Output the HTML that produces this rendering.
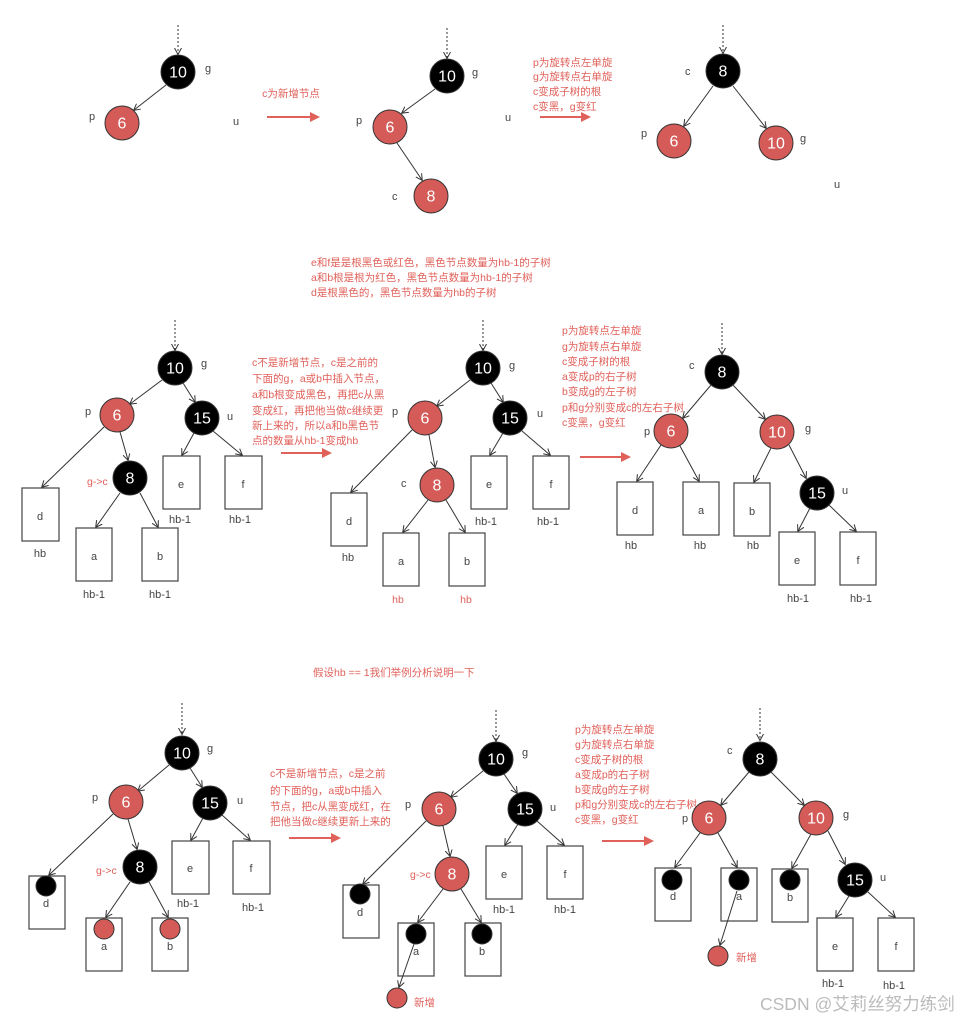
<!DOCTYPE html>
<html><head><meta charset="utf-8"><style>
html,body{margin:0;padding:0;background:#fff;}
svg{display:block;font-family:"Liberation Sans","Noto Sans CJK SC",sans-serif;}
.k{fill:#000;stroke:#333;stroke-width:1}
.r{fill:#d45b57;stroke:#333;stroke-width:1}
.n{fill:#fff;font-size:16px;text-anchor:middle;dominant-baseline:central}
.l{fill:#444;font-size:11px}
.c{text-anchor:middle}
.t{fill:#e0605a;font-size:10.5px}
.e{stroke:#333;stroke-width:1;fill:none;marker-end:url(#a)}
.d{stroke:#333;stroke-width:1;stroke-dasharray:2 2;fill:none;marker-end:url(#a)}
.b{fill:#fff;stroke:#444;stroke-width:1.2}
.ar{stroke:#e0605a;stroke-width:2;fill:none}
.ah{fill:#e0605a}
</style></head><body>
<svg width="969" height="1023" viewBox="0 0 969 1023">
<defs><marker id="a" markerWidth="8" markerHeight="8" refX="6" refY="4" orient="auto" markerUnits="userSpaceOnUse"><path d="M0,0.5 L6.5,4 L0,7.5" fill="none" stroke="#333" stroke-width="1"/></marker></defs>

<!-- ROW 1 -->
<line class="d" x1="178" y1="25" x2="178" y2="54"/>
<line class="e" x1="166" y1="85" x2="134" y2="110"/>
<circle class="k" cx="178" cy="72" r="17"/><text class="n" x="178" y="73">10</text>
<circle class="r" cx="122" cy="123" r="17"/><text class="n" x="122" y="124">6</text>
<text class="l" x="205" y="72">g</text><text class="l" x="89" y="120">p</text><text class="l" x="233" y="125">u</text>
<text class="t c" x="291" y="97">c为新增节点</text>
<line class="ar" x1="267" y1="117" x2="312" y2="117"/><path class="ah" d="M310,112 L320,117 L310,122Z"/>

<line class="d" x1="447" y1="28" x2="447" y2="58"/>
<line class="e" x1="435" y1="89" x2="402" y2="113"/>
<line class="e" x1="397" y1="143" x2="422" y2="180"/>
<circle class="k" cx="447" cy="76" r="17"/><text class="n" x="447" y="77">10</text>
<circle class="r" cx="390" cy="127" r="17"/><text class="n" x="390" y="128">6</text>
<circle class="r" cx="431" cy="196" r="17"/><text class="n" x="431" y="197">8</text>
<text class="l" x="472" y="76">g</text><text class="l" x="356" y="124">p</text><text class="l" x="392" y="200">c</text><text class="l" x="505" y="121">u</text>
<text class="t" x="533" y="66">p为旋转点左单旋</text>
<text class="t" x="533" y="80">g为旋转点右单旋</text>
<text class="t" x="533" y="95">c变成子树的根</text>
<text class="t" x="533" y="110">c变黑，g变红</text>
<line class="ar" x1="540" y1="117" x2="583" y2="117"/><path class="ah" d="M581,112 L591,117 L581,122Z"/>

<line class="d" x1="723" y1="25" x2="723" y2="53"/>
<line class="e" x1="713" y1="86" x2="684" y2="126"/>
<line class="e" x1="733" y1="86" x2="766" y2="128"/>
<circle class="k" cx="723" cy="71" r="17"/><text class="n" x="723" y="72">8</text>
<circle class="r" cx="674" cy="141" r="17"/><text class="n" x="674" y="142">6</text>
<circle class="r" cx="776" cy="143" r="17"/><text class="n" x="776" y="144">10</text>
<text class="l" x="685" y="75">c</text><text class="l" x="641" y="137">p</text><text class="l" x="800" y="142">g</text><text class="l" x="834" y="188">u</text>

<!-- ROW 2 text -->
<text class="t" x="311" y="266">e和f是是根黑色或红色，黑色节点数量为hb-1的子树</text>
<text class="t" x="311" y="281">a和b根是根为红色，黑色节点数量为hb-1的子树</text>
<text class="t" x="311" y="296">d是根黑色的，黑色节点数量为hb的子树</text>

<!-- Tree A -->
<line class="d" x1="175" y1="320" x2="175" y2="350"/>
<line class="e" x1="162" y1="380" x2="130" y2="404"/>
<line class="e" x1="183" y1="383" x2="195" y2="402"/>
<line class="e" x1="104" y1="427" x2="42" y2="487"/>
<line class="e" x1="120" y1="432" x2="128" y2="460"/>
<line class="e" x1="120" y1="493" x2="96" y2="527"/>
<line class="e" x1="140" y1="493" x2="158" y2="527"/>
<line class="e" x1="194" y1="433" x2="182" y2="455"/>
<line class="e" x1="213" y1="431" x2="242" y2="455"/>
<circle class="k" cx="175" cy="368" r="17"/><text class="n" x="175" y="369">10</text>
<circle class="r" cx="117" cy="415" r="17"/><text class="n" x="117" y="416">6</text>
<circle class="k" cx="202" cy="418" r="17"/><text class="n" x="202" y="419">15</text>
<circle class="k" cx="130" cy="478" r="17"/><text class="n" x="130" y="479">8</text>
<rect class="b" x="22" y="488" width="37" height="53"/><rect class="b" x="76" y="528" width="36" height="53"/><rect class="b" x="142" y="528" width="36" height="53"/><rect class="b" x="163" y="456" width="37" height="53"/><rect class="b" x="225" y="456" width="37" height="53"/>
<text class="l c" x="40" y="520">d</text><text class="l c" x="94" y="560">a</text><text class="l c" x="160" y="560">b</text><text class="l c" x="181" y="488">e</text><text class="l c" x="243" y="488">f</text>
<text class="l c" x="40" y="557">hb</text><text class="l c" x="94" y="598">hb-1</text><text class="l c" x="160" y="598">hb-1</text><text class="l c" x="180" y="523">hb-1</text><text class="l c" x="240" y="523">hb-1</text>
<text class="l" x="201" y="367">g</text><text class="l" x="85" y="415">p</text><text class="l" x="227" y="420">u</text><text class="t" x="87" y="485">g-&gt;c</text>
<text class="t" x="252" y="366">c不是新增节点，c是之前的</text>
<text class="t" x="252" y="382">下面的g，a或b中插入节点，</text>
<text class="t" x="252" y="398">a和b根变成黑色，再把c从黑</text>
<text class="t" x="252" y="414">变成红，再把他当做c继续更</text>
<text class="t" x="252" y="429">新上来的，所以a和b黑色节</text>
<text class="t" x="252" y="444">点的数量从hb-1变成hb</text>
<line class="ar" x1="281" y1="453" x2="324" y2="453"/><path class="ah" d="M322,448 L332,453 L322,458Z"/>

<!-- Tree B -->
<line class="d" x1="483" y1="320" x2="483" y2="350"/>
<line class="e" x1="470" y1="380" x2="437" y2="406"/>
<line class="e" x1="491" y1="383" x2="503" y2="402"/>
<line class="e" x1="412" y1="430" x2="351" y2="492"/>
<line class="e" x1="429" y1="435" x2="435" y2="467"/>
<line class="e" x1="428" y1="500" x2="403" y2="532"/>
<line class="e" x1="446" y1="500" x2="465" y2="532"/>
<line class="e" x1="503" y1="433" x2="490" y2="455"/>
<line class="e" x1="522" y1="431" x2="550" y2="455"/>
<circle class="k" cx="483" cy="368" r="17"/><text class="n" x="483" y="369">10</text>
<circle class="r" cx="425" cy="418" r="17"/><text class="n" x="425" y="419">6</text>
<circle class="k" cx="510" cy="418" r="17"/><text class="n" x="510" y="419">15</text>
<circle class="r" cx="437" cy="485" r="17"/><text class="n" x="437" y="486">8</text>
<rect class="b" x="331" y="493" width="36" height="53"/><rect class="b" x="383" y="533" width="36" height="53"/><rect class="b" x="449" y="533" width="36" height="53"/><rect class="b" x="471" y="456" width="36" height="53"/><rect class="b" x="533" y="456" width="36" height="53"/>
<text class="l c" x="349" y="525">d</text><text class="l c" x="401" y="565">a</text><text class="l c" x="467" y="565">b</text><text class="l c" x="489" y="488">e</text><text class="l c" x="551" y="488">f</text>
<text class="l c" x="348" y="561">hb</text><text class="t c" x="398" y="603">hb</text><text class="t c" x="466" y="603">hb</text><text class="l c" x="486" y="525">hb-1</text><text class="l c" x="548" y="525">hb-1</text>
<text class="l" x="509" y="369">g</text><text class="l" x="392" y="415">p</text><text class="l" x="537" y="417">u</text><text class="l" x="401" y="487">c</text>
<text class="t" x="562" y="334">p为旋转点左单旋</text>
<text class="t" x="562" y="350">g为旋转点右单旋</text>
<text class="t" x="562" y="365">c变成子树的根</text>
<text class="t" x="562" y="380">a变成p的右子树</text>
<text class="t" x="562" y="395">b变成g的左子树</text>
<text class="t" x="562" y="411">p和g分别变成c的左右子树</text>
<text class="t" x="562" y="426">c变黑，g变红</text>
<line class="ar" x1="580" y1="457" x2="623" y2="457"/><path class="ah" d="M621,452 L631,457 L621,462Z"/>

<!-- Tree C -->
<line class="d" x1="722" y1="323" x2="722" y2="354"/>
<line class="e" x1="711" y1="385" x2="683" y2="418"/>
<line class="e" x1="733" y1="385" x2="765" y2="419"/>
<line class="e" x1="661" y1="445" x2="637" y2="481"/>
<line class="e" x1="680" y1="446" x2="699" y2="481"/>
<line class="e" x1="771" y1="448" x2="754" y2="482"/>
<line class="e" x1="789" y1="445" x2="806" y2="478"/>
<line class="e" x1="810" y1="508" x2="798" y2="531"/>
<line class="e" x1="829" y1="505" x2="856" y2="531"/>
<circle class="k" cx="722" cy="372" r="17"/><text class="n" x="722" y="373">8</text>
<circle class="r" cx="671" cy="431" r="17"/><text class="n" x="671" y="432">6</text>
<circle class="r" cx="777" cy="432" r="17"/><text class="n" x="777" y="433">10</text>
<circle class="k" cx="817" cy="493" r="17"/><text class="n" x="817" y="494">15</text>
<rect class="b" x="617" y="482" width="36" height="53"/><rect class="b" x="683" y="482" width="36" height="53"/><rect class="b" x="734" y="483" width="36" height="53"/><rect class="b" x="779" y="532" width="36" height="53"/><rect class="b" x="840" y="532" width="36" height="53"/>
<text class="l c" x="635" y="514">d</text><text class="l c" x="701" y="514">a</text><text class="l c" x="752" y="515">b</text><text class="l c" x="797" y="564">e</text><text class="l c" x="858" y="564">f</text>
<text class="l c" x="631" y="549">hb</text><text class="l c" x="700" y="549">hb</text><text class="l c" x="753" y="549">hb</text><text class="l c" x="798" y="602">hb-1</text><text class="l c" x="861" y="602">hb-1</text>
<text class="l" x="689" y="369">c</text><text class="l" x="644" y="435">p</text><text class="l" x="805" y="432">g</text><text class="l" x="842" y="494">u</text>

<!-- ROW 3 -->
<text class="t" x="313" y="676">假设hb == 1我们举例分析说明一下</text>

<!-- Tree D -->
<line class="d" x1="182" y1="703" x2="182" y2="734"/>
<line class="e" x1="169" y1="765" x2="138" y2="791"/>
<line class="e" x1="190" y1="768" x2="202" y2="787"/>
<line class="e" x1="113" y1="814" x2="49" y2="875"/>
<line class="e" x1="128" y1="819" x2="137" y2="849"/>
<line class="e" x1="130" y1="882" x2="106" y2="917"/>
<line class="e" x1="149" y1="882" x2="168" y2="917"/>
<line class="e" x1="203" y1="818" x2="191" y2="840"/>
<line class="e" x1="222" y1="815" x2="250" y2="840"/>
<circle class="k" cx="182" cy="753" r="17"/><text class="n" x="182" y="754">10</text>
<circle class="r" cx="126" cy="802" r="17"/><text class="n" x="126" y="803">6</text>
<circle class="k" cx="210" cy="803" r="17"/><text class="n" x="210" y="804">15</text>
<circle class="k" cx="140" cy="867" r="17"/><text class="n" x="140" y="868">8</text>
<rect class="b" x="29" y="876" width="36" height="53"/><rect class="b" x="86" y="918" width="36" height="53"/><rect class="b" x="152" y="918" width="36" height="53"/><rect class="b" x="172" y="841" width="37" height="53"/><rect class="b" x="233" y="841" width="37" height="53"/>
<circle class="k" cx="46" cy="886" r="10"/><circle class="r" cx="104" cy="929" r="10"/><circle class="r" cx="170" cy="929" r="10"/>
<text class="l c" x="46" y="907">d</text><text class="l c" x="104" y="950">a</text><text class="l c" x="170" y="950">b</text><text class="l c" x="190" y="872">e</text><text class="l c" x="251" y="872">f</text>
<text class="l c" x="188" y="907">hb-1</text><text class="l c" x="253" y="911">hb-1</text>
<text class="l" x="207" y="752">g</text><text class="l" x="92" y="801">p</text><text class="l" x="237" y="804">u</text><text class="t" x="96" y="874">g-&gt;c</text>
<text class="t" x="270" y="777">c不是新增节点，c是之前</text>
<text class="t" x="270" y="794">的下面的g，a或b中插入</text>
<text class="t" x="270" y="810">节点，把c从黑变成红，在</text>
<text class="t" x="270" y="825">把他当做c继续更新上来的</text>
<line class="ar" x1="289" y1="838" x2="333" y2="838"/><path class="ah" d="M331,833 L341,838 L331,843Z"/>

<!-- Tree E -->
<line class="d" x1="496" y1="710" x2="496" y2="741"/>
<line class="e" x1="483" y1="771" x2="451" y2="797"/>
<line class="e" x1="504" y1="774" x2="517" y2="793"/>
<line class="e" x1="426" y1="821" x2="363" y2="884"/>
<line class="e" x1="443" y1="826" x2="450" y2="856"/>
<line class="e" x1="443" y1="889" x2="418" y2="922"/>
<line class="e" x1="461" y1="889" x2="481" y2="922"/>
<line class="e" x1="518" y1="824" x2="505" y2="845"/>
<line class="e" x1="537" y1="821" x2="564" y2="845"/>
<circle class="k" cx="496" cy="759" r="17"/><text class="n" x="496" y="760">10</text>
<circle class="r" cx="439" cy="809" r="17"/><text class="n" x="439" y="810">6</text>
<circle class="k" cx="525" cy="809" r="17"/><text class="n" x="525" y="810">15</text>
<circle class="r" cx="452" cy="874" r="17"/><text class="n" x="452" y="875">8</text>
<rect class="b" x="343" y="885" width="36" height="53"/><rect class="b" x="398" y="923" width="36" height="53"/><rect class="b" x="465" y="923" width="36" height="53"/><rect class="b" x="486" y="846" width="36" height="53"/><rect class="b" x="547" y="846" width="36" height="53"/>
<circle class="k" cx="360" cy="894" r="10"/><circle class="k" cx="416" cy="934" r="10"/><circle class="k" cx="482" cy="934" r="10"/>
<line class="e" x1="414" y1="944" x2="399" y2="987"/>
<circle class="r" cx="397" cy="998" r="10"/><text class="t" x="414" y="1006">新增</text>
<text class="l c" x="360" y="916">d</text><text class="l c" x="416" y="955">a</text><text class="l c" x="482" y="955">b</text><text class="l c" x="504" y="878">e</text><text class="l c" x="565" y="878">f</text>
<text class="l c" x="504" y="913">hb-1</text><text class="l c" x="565" y="913">hb-1</text>
<text class="l" x="522" y="756">g</text><text class="l" x="405" y="808">p</text><text class="l" x="550" y="811">u</text><text class="t" x="410" y="878">g-&gt;c</text>
<text class="t" x="575" y="733">p为旋转点左单旋</text>
<text class="t" x="575" y="748">g为旋转点右单旋</text>
<text class="t" x="575" y="763">c变成子树的根</text>
<text class="t" x="575" y="778">a变成p的右子树</text>
<text class="t" x="575" y="793">b变成g的左子树</text>
<text class="t" x="575" y="808">p和g分别变成c的左右子树</text>
<text class="t" x="575" y="823">c变黑，g变红</text>
<line class="ar" x1="602" y1="841" x2="646" y2="841"/><path class="ah" d="M644,836 L654,841 L644,846Z"/>

<!-- Tree F -->
<line class="d" x1="760" y1="708" x2="760" y2="740"/>
<line class="e" x1="749" y1="772" x2="721" y2="805"/>
<line class="e" x1="771" y1="772" x2="804" y2="805"/>
<line class="e" x1="700" y1="833" x2="675" y2="867"/>
<line class="e" x1="718" y1="833" x2="737" y2="867"/>
<line class="e" x1="811" y1="834" x2="792" y2="868"/>
<line class="e" x1="828" y1="831" x2="845" y2="864"/>
<line class="e" x1="849" y1="896" x2="836" y2="917"/>
<line class="e" x1="868" y1="892" x2="895" y2="917"/>
<circle class="k" cx="760" cy="759" r="17"/><text class="n" x="760" y="760">8</text>
<circle class="r" cx="709" cy="818" r="17"/><text class="n" x="709" y="819">6</text>
<circle class="r" cx="816" cy="818" r="17"/><text class="n" x="816" y="819">10</text>
<circle class="k" cx="855" cy="880" r="17"/><text class="n" x="855" y="881">15</text>
<rect class="b" x="655" y="868" width="36" height="53"/><rect class="b" x="721" y="868" width="36" height="53"/><rect class="b" x="772" y="869" width="36" height="53"/><rect class="b" x="817" y="918" width="36" height="53"/><rect class="b" x="878" y="918" width="36" height="53"/>
<circle class="k" cx="672" cy="880" r="10"/><circle class="k" cx="739" cy="880" r="10"/><circle class="k" cx="790" cy="880" r="10"/>
<line class="e" x1="737" y1="891" x2="720" y2="945"/>
<circle class="r" cx="718" cy="956" r="10"/><text class="t" x="736" y="961">新增</text>
<text class="l c" x="673" y="900">d</text><text class="l c" x="739" y="900">a</text><text class="l c" x="790" y="901">b</text><text class="l c" x="835" y="950">e</text><text class="l c" x="896" y="950">f</text>
<text class="l c" x="833" y="987">hb-1</text><text class="l c" x="894" y="989">hb-1</text>
<text class="l" x="727" y="754">c</text><text class="l" x="682" y="822">p</text><text class="l" x="843" y="818">g</text><text class="l" x="880" y="881">u</text>

<text x="760" y="1010" style="fill:#bbb;font-size:17.5px">CSDN @艾莉丝努力练剑</text>
</svg>
</body></html>
